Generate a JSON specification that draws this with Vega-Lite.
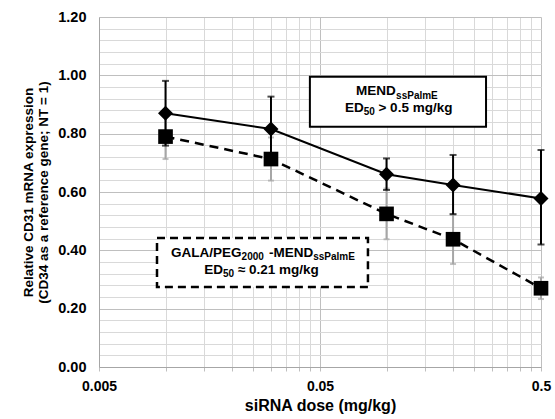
{
  "$schema": "https://vega.github.io/schema/vega-lite/v6.json",
  "width": 442,
  "height": 350,
  "autosize": "none",
  "padding": {"left": 99, "top": 17, "right": 14, "bottom": 52},
  "background": "white",
  "resolve": {"axis": {"x": "independent", "y": "independent"}},
  "config": {
    "font": "Liberation Sans",
    "view": {"stroke": null},
    "axis": {"labelFont": "Liberation Sans", "titleFont": "Liberation Sans", "labelFontWeight": "bold", "titleFontWeight": "bold", "labelColor": "#000", "titleColor": "#000"},
    "text": {"font": "Liberation Sans", "fontWeight": "bold", "align": "left", "baseline": "alphabetic", "color": "#000"}
  },
  "datasets": {
    "pts": [
      {"series": "MEND", "dose": 0.01, "val": 0.870, "lo": 0.759, "hi": 0.981},
      {"series": "MEND", "dose": 0.03, "val": 0.816, "lo": 0.706, "hi": 0.927},
      {"series": "MEND", "dose": 0.1, "val": 0.661, "lo": 0.607, "hi": 0.715},
      {"series": "MEND", "dose": 0.2, "val": 0.624, "lo": 0.524, "hi": 0.727},
      {"series": "MEND", "dose": 0.5, "val": 0.578, "lo": 0.420, "hi": 0.744},
      {"series": "GALA", "dose": 0.01, "val": 0.790, "lo": 0.713, "hi": 0.867},
      {"series": "GALA", "dose": 0.03, "val": 0.713, "lo": 0.639, "hi": 0.787},
      {"series": "GALA", "dose": 0.1, "val": 0.525, "lo": 0.438, "hi": 0.612},
      {"series": "GALA", "dose": 0.2, "val": 0.438, "lo": 0.353, "hi": 0.523},
      {"series": "GALA", "dose": 0.5, "val": 0.270, "lo": 0.233, "hi": 0.307}
    ],
    "labels": [
      {"box": 1, "line": 1, "t": "MEND", "ord": 1},
      {"box": 1, "line": 1, "t": "ssPalmE", "ord": 2},
      {"box": 1, "line": 2, "t": "ED", "ord": 1},
      {"box": 1, "line": 2, "t": "50", "ord": 2},
      {"box": 1, "line": 2, "t": "> 0.5 mg/kg", "ord": 3},
      {"box": 2, "line": 1, "t": "GALA/PEG", "ord": 1},
      {"box": 2, "line": 1, "t": "2000", "ord": 2},
      {"box": 2, "line": 1, "t": "-MEND", "ord": 3},
      {"box": 2, "line": 1, "t": "ssPalmE", "ord": 4},
      {"box": 2, "line": 2, "t": "ED", "ord": 1},
      {"box": 2, "line": 2, "t": "50", "ord": 2},
      {"box": 2, "line": 2, "t": "≈ 0.21 mg/kg", "ord": 3}
    ]
  },
  "layer": [
    {
      "data": {"name": "pts"},
      "encoding": {
        "x": {
          "field": "dose", "type": "quantitative",
          "scale": {"type": "log", "domain": [0.005, 0.5], "nice": false},
          "axis": {
            "title": "siRNA dose (mg/kg)",
            "titleFontSize": 16,
            "titlePadding": 4,
            "values": [0.005, 0.01, 0.015, 0.02, 0.025, 0.03, 0.035, 0.04, 0.045, 0.05, 0.1, 0.15, 0.2, 0.25, 0.3, 0.35, 0.4, 0.45, 0.5],
            "format": ".3~f",
            "labelExpr": "(abs(datum.value-0.005)<1e-9 || abs(datum.value-0.05)<1e-9 || abs(datum.value-0.5)<1e-9) ? datum.label : ''",
            "labelFontSize": 14,
            "labelPadding": 8,
            "labelFlush": false,
            "labelOverlap": false,
            "tickSize": 4,
            "tickColor": "#bfbfbf",
            "domainColor": "#a6a6a6",
            "domainWidth": 1,
            "grid": true,
            "gridColor": {"condition": {"test": "abs(datum.value-0.005)<1e-9 || abs(datum.value-0.05)<1e-9 || abs(datum.value-0.5)<1e-9", "value": "#bfbfbf"}, "value": "#d9d9d9"},
            "gridWidth": 1
          }
        },
        "y": {
          "field": "val", "type": "quantitative",
          "scale": {"domain": [0, 1.2], "nice": false},
          "axis": {
            "title": ["Relative CD31 mRNA expression", "(CD34 as a reference gene; NT = 1)"],
            "titleFontSize": 13.5,
            "titleLineHeight": 15,
            "titlePadding": 7,
            "values": [0, 0.04, 0.08, 0.12, 0.16, 0.2, 0.24, 0.28, 0.32, 0.36, 0.4, 0.44, 0.48, 0.52, 0.56, 0.6, 0.64, 0.68, 0.72, 0.76, 0.8, 0.84, 0.88, 0.92, 0.96, 1.0, 1.04, 1.08, 1.12, 1.16, 1.2],
            "format": ".2f",
            "labelExpr": "round(datum.value*25) % 5 === 0 ? datum.label : ''",
            "labelFontSize": 14.5,
            "labelPadding": 13,
            "labelOverlap": false,
            "labelFlush": false,
            "ticks": false,
            "domainColor": "#a6a6a6",
            "grid": true,
            "gridColor": {"condition": {"test": "round(datum.value*25) % 5 === 0", "value": "#bfbfbf"}, "value": "#d9d9d9"},
            "gridWidth": 1
          }
        }
      },
      "layer": [
        {
          "transform": [{"filter": "datum.series === 'GALA'"}],
          "mark": {"type": "errorbar", "ticks": true, "size": 6, "thickness": 2, "color": "#a6a6a6"},
          "encoding": {"y": {"field": "lo", "type": "quantitative"}, "y2": {"field": "hi"}}
        },
        {
          "transform": [{"filter": "datum.series === 'MEND'"}],
          "mark": {"type": "errorbar", "ticks": true, "size": 7, "thickness": 2, "color": "#000000"},
          "encoding": {"y": {"field": "lo", "type": "quantitative"}, "y2": {"field": "hi"}}
        },
        {
          "transform": [{"filter": "datum.series === 'GALA'"}],
          "mark": {"type": "line", "color": "#000", "strokeWidth": 2.5, "strokeDash": [9, 6]},
          "encoding": {}
        },
        {
          "transform": [{"filter": "datum.series === 'MEND'"}],
          "mark": {"type": "line", "color": "#000", "strokeWidth": 2},
          "encoding": {}
        },
        {
          "transform": [{"filter": "datum.series === 'GALA'"}],
          "mark": {"type": "point", "shape": "square", "filled": true, "opacity": 1, "color": "#000", "size": 215},
          "encoding": {}
        },
        {
          "transform": [{"filter": "datum.series === 'MEND'"}],
          "mark": {"type": "point", "shape": "diamond", "filled": true, "opacity": 1, "color": "#000", "size": 225},
          "encoding": {}
        }
      ]
    },
    {
      "data": {"values": [{"k": 1}]},
      "mark": {"type": "rect", "fill": "white", "stroke": "#000", "strokeWidth": 2},
      "encoding": {
        "x": {"datum": 0.045, "type": "quantitative", "axis": null},
        "x2": {"datum": 0.282},
        "y": {"datum": 0.995, "type": "quantitative", "axis": null},
        "y2": {"datum": 0.824}
      }
    },
    {
      "data": {"values": [{"k": 1}]},
      "mark": {"type": "rect", "fill": "white", "stroke": "#000", "strokeWidth": 2.5, "strokeDash": [8, 5]},
      "encoding": {
        "x": {"datum": 0.00915, "type": "quantitative", "axis": null},
        "x2": {"datum": 0.0824},
        "y": {"datum": 0.442, "type": "quantitative", "axis": null},
        "y2": {"datum": 0.274}
      }
    },
    {"data": {"name": "labels"}, "transform": [{"filter": "datum.box===1 && datum.line===1 && datum.ord===1"}], "mark": {"type": "text", "fontSize": 13.5, "dx": 46}, "encoding": {"x": {"datum": 0.045, "type": "quantitative", "axis": null}, "y": {"datum": 0.932, "type": "quantitative", "axis": null}, "text": {"field": "t"}}},
    {"data": {"name": "labels"}, "transform": [{"filter": "datum.box===1 && datum.line===1 && datum.ord===2"}], "mark": {"type": "text", "fontSize": 10, "dx": 86.2, "dy": 4}, "encoding": {"x": {"datum": 0.045, "type": "quantitative", "axis": null}, "y": {"datum": 0.932, "type": "quantitative", "axis": null}, "text": {"field": "t"}}},
    {"data": {"name": "labels"}, "transform": [{"filter": "datum.box===1 && datum.line===2 && datum.ord===1"}], "mark": {"type": "text", "fontSize": 13.5, "dx": 35}, "encoding": {"x": {"datum": 0.045, "type": "quantitative", "axis": null}, "y": {"datum": 0.875, "type": "quantitative", "axis": null}, "text": {"field": "t"}}},
    {"data": {"name": "labels"}, "transform": [{"filter": "datum.box===1 && datum.line===2 && datum.ord===2"}], "mark": {"type": "text", "fontSize": 10, "dx": 53.8, "dy": 3}, "encoding": {"x": {"datum": 0.045, "type": "quantitative", "axis": null}, "y": {"datum": 0.875, "type": "quantitative", "axis": null}, "text": {"field": "t"}}},
    {"data": {"name": "labels"}, "transform": [{"filter": "datum.box===1 && datum.line===2 && datum.ord===3"}], "mark": {"type": "text", "fontSize": 13.5, "dx": 68.6}, "encoding": {"x": {"datum": 0.045, "type": "quantitative", "axis": null}, "y": {"datum": 0.875, "type": "quantitative", "axis": null}, "text": {"field": "t"}}},
    {"data": {"name": "labels"}, "transform": [{"filter": "datum.box===2 && datum.line===1 && datum.ord===1"}], "mark": {"type": "text", "fontSize": 13.5, "dx": 14}, "encoding": {"x": {"datum": 0.00915, "type": "quantitative", "axis": null}, "y": {"datum": 0.378, "type": "quantitative", "axis": null}, "text": {"field": "t"}}},
    {"data": {"name": "labels"}, "transform": [{"filter": "datum.box===2 && datum.line===1 && datum.ord===2"}], "mark": {"type": "text", "fontSize": 10, "dx": 84.6, "dy": 3}, "encoding": {"x": {"datum": 0.00915, "type": "quantitative", "axis": null}, "y": {"datum": 0.378, "type": "quantitative", "axis": null}, "text": {"field": "t"}}},
    {"data": {"name": "labels"}, "transform": [{"filter": "datum.box===2 && datum.line===1 && datum.ord===3"}], "mark": {"type": "text", "fontSize": 13.5, "dx": 112}, "encoding": {"x": {"datum": 0.00915, "type": "quantitative", "axis": null}, "y": {"datum": 0.378, "type": "quantitative", "axis": null}, "text": {"field": "t"}}},
    {"data": {"name": "labels"}, "transform": [{"filter": "datum.box===2 && datum.line===1 && datum.ord===4"}], "mark": {"type": "text", "fontSize": 10, "dx": 156.2, "dy": 3}, "encoding": {"x": {"datum": 0.00915, "type": "quantitative", "axis": null}, "y": {"datum": 0.378, "type": "quantitative", "axis": null}, "text": {"field": "t"}}},
    {"data": {"name": "labels"}, "transform": [{"filter": "datum.box===2 && datum.line===2 && datum.ord===1"}], "mark": {"type": "text", "fontSize": 13.5, "dx": 47.3}, "encoding": {"x": {"datum": 0.00915, "type": "quantitative", "axis": null}, "y": {"datum": 0.320, "type": "quantitative", "axis": null}, "text": {"field": "t"}}},
    {"data": {"name": "labels"}, "transform": [{"filter": "datum.box===2 && datum.line===2 && datum.ord===2"}], "mark": {"type": "text", "fontSize": 10, "dx": 66, "dy": 3}, "encoding": {"x": {"datum": 0.00915, "type": "quantitative", "axis": null}, "y": {"datum": 0.320, "type": "quantitative", "axis": null}, "text": {"field": "t"}}},
    {"data": {"name": "labels"}, "transform": [{"filter": "datum.box===2 && datum.line===2 && datum.ord===3"}], "mark": {"type": "text", "fontSize": 13.5, "dx": 80.9}, "encoding": {"x": {"datum": 0.00915, "type": "quantitative", "axis": null}, "y": {"datum": 0.320, "type": "quantitative", "axis": null}, "text": {"field": "t"}}}
  ]
}
